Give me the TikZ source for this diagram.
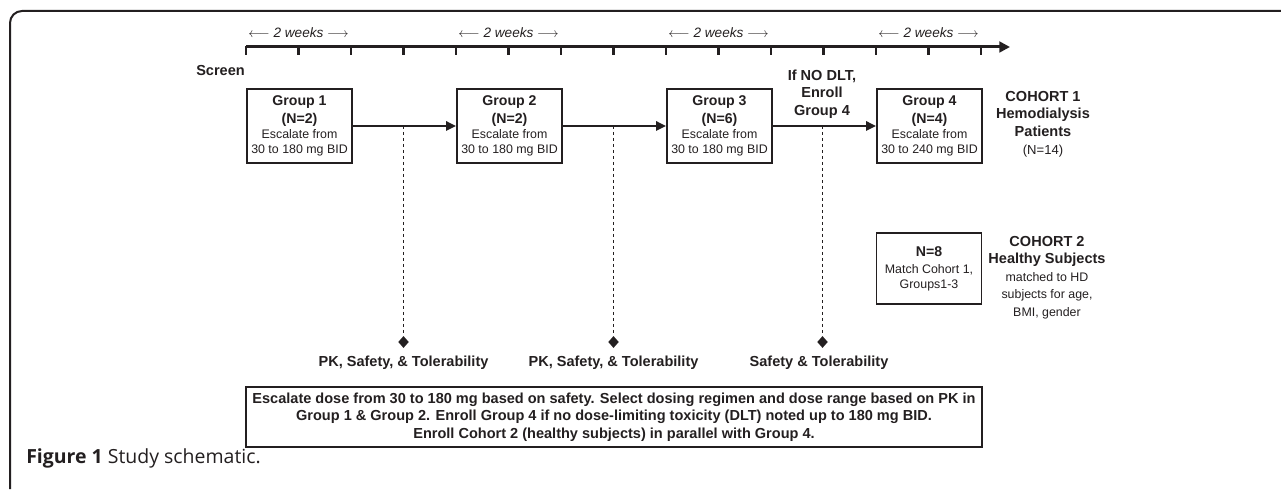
\documentclass[tikz,border=0pt]{standalone}
\usepackage{fontspec}
\setmainfont{Liberation Sans}
\newfontfamily\capfont{Open Sans}
\usepackage{xcolor}
\definecolor{ink}{RGB}{35,31,32}
\usepackage{tikz}
\usetikzlibrary{positioning,shapes.geometric,arrows.meta}
\newcommand{\headfont}{\fontsize{10.6}{11}\selectfont\bfseries}
\newcommand{\twoweeks}{$\longleftarrow$ 2 weeks $\longrightarrow$}
\tikzstyle{frame} = [line width=1.5pt, rounded corners=9pt]
\tikzstyle{timeline} = [line width=2.25pt, -{Triangle[length=8pt,width=8pt]}]
\tikzstyle{tick} = [line width=2pt]
\tikzstyle{weeks} = [inner sep=0pt, font=\itshape\fontsize{10.2}{11}\selectfont]
\tikzstyle{groupbox} = [
    draw, line width=1.4pt, minimum width=78.75pt, minimum height=55.5pt,
    inner sep=0pt, align=center, font=\fontsize{9.3}{11}\selectfont,
]
\tikzstyle{boldlabel} = [inner sep=0pt, align=center, font=\bfseries\fontsize{10.9}{13.2}\selectfont]
\tikzstyle{arrow} = [line width=1.5pt, -{Triangle[length=7.5pt,width=7pt]}]
\tikzstyle{checkline} = [line width=0.75pt, dash pattern=on 2.25pt off 2.25pt]
\tikzstyle{milestone} = [diamond, fill=ink, inner sep=0pt, minimum width=8pt, minimum height=9pt]

\begin{document}
\begin{tikzpicture}[x=0.75pt, y=0.75pt, color=ink]
    \useasboundingbox (0,0) rectangle (1281,489);
    \draw[frame] (10,0) -- (10,478) -- (1281,478);

    % time axis
    \coordinate (t0) at (246,442);
    \coordinate (tend) at (1010,442);
    \draw[timeline] (t0) -- (tend);
    \foreach \k in {0,...,14}
        \draw[tick] ({246+52.5*\k},443) -- ({246+52.5*\k},434);
    \node[weeks] (w1) at (298.5,456) {\twoweeks};
    \node[weeks] (w2) at (508.5,456) {\twoweeks};
    \node[weeks] (w3) at (718.5,456) {\twoweeks};
    \node[weeks] (w4) at (928.5,456) {\twoweeks};
    \node[boldlabel, anchor=east] (screen) at (245,418) {Screen};

    % cohort 1
    \node[groupbox] (g1) at (299.5,363) {{\headfont Group 1}\\[2.5pt]{\headfont (N=2)}\\Escalate from\\30 to 180 mg BID};
    \node[groupbox] (g2) at (509.5,363) {{\headfont Group 2}\\[2.5pt]{\headfont (N=2)}\\Escalate from\\30 to 180 mg BID};
    \node[groupbox] (g3) at (719.5,363) {{\headfont Group 3}\\[2.5pt]{\headfont (N=6)}\\Escalate from\\30 to 180 mg BID};
    \node[groupbox] (g4) at (929.5,363) {{\headfont Group 4}\\[2.5pt]{\headfont (N=4)}\\Escalate from\\30 to 240 mg BID};
    \draw[arrow] (g1) -- (g2);
    \draw[arrow] (g2) -- (g3);
    \draw[arrow] (g3) -- (g4);
    \node[boldlabel] (nodlt) at (822,395) {If NO DLT,\\Enroll\\Group 4};
    \node[boldlabel] (cohort1) at (1043,365) {COHORT 1\\Hemodialysis\\Patients\\{\normalfont\fontsize{9.8}{11}\selectfont (N=14)}};

    % checkpoints
    \coordinate (d1) at (403.5,363);
    \coordinate (d2) at (613.5,363);
    \coordinate (d3) at (822.5,363);
    \node[milestone] (m1) at (403.5,147) {};
    \node[milestone] (m2) at (613.5,147) {};
    \node[milestone] (m3) at (822.5,147) {};
    \draw[checkline] (d1) -- (m1);
    \draw[checkline] (d2) -- (m2);
    \draw[checkline] (d3) -- (m3);
    \node[boldlabel] (pk1) at (403.5,126) {PK, Safety, \& Tolerability};
    \node[boldlabel] (pk2) at (613.5,126) {PK, Safety, \& Tolerability};
    \node[boldlabel] (safe3) at (819,126) {Safety \& Tolerability};

    % cohort 2
    \node[groupbox, minimum height=53.25pt] (n8) at (929,220.5) {{\headfont N=8}\\[2pt]Match Cohort 1,\\Groups1-3};
    \node[boldlabel] (cohort2) at (1047,211.5) {COHORT 2\\Healthy Subjects\\{\normalfont\fontsize{9.3}{13}\selectfont matched to HD}\\{\normalfont\fontsize{9.3}{13}\selectfont subjects for age,}\\{\normalfont\fontsize{9.3}{13}\selectfont BMI, gender}};

    % notes
    \node[groupbox, minimum width=552pt, minimum height=45pt, font=\bfseries\fontsize{10.9}{13.1}\selectfont] (notes) at (614,72) {Escalate dose from 30 to 180 mg based on safety. Select dosing regimen and dose range based on PK in\\Group 1 \& Group 2. Enroll Group 4 if no dose-limiting toxicity (DLT) noted up to 180 mg BID.\\Enroll Cohort 2 (healthy subjects) in parallel with Group 4.};
    \node[anchor=base west, inner sep=0pt, font=\capfont\fontsize{14.6}{16}\selectfont] (caption) at (26,26) {\textbf{Figure 1} Study schematic.};
\end{tikzpicture}
\end{document}
